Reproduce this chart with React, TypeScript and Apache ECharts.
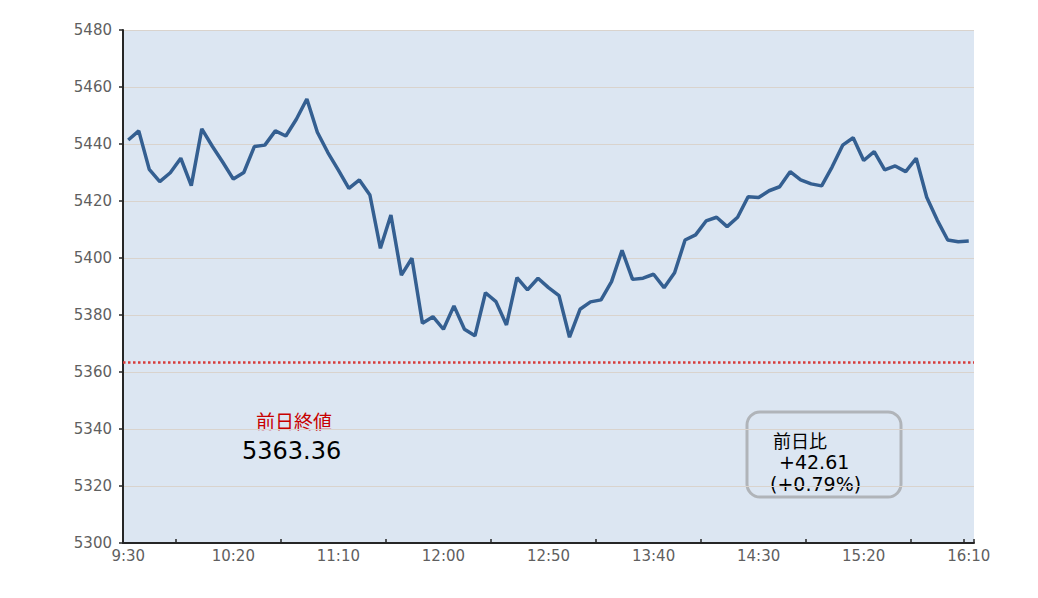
import React, { useEffect, useRef } from "react";
import * as echarts from "echarts";

const times: string[] = [
  "9:30", "9:35", "9:40", "9:45", "9:50", "9:55",
  "10:00", "10:05", "10:10", "10:15", "10:20", "10:25", "10:30", "10:35", "10:40", "10:45", "10:50", "10:55",
  "11:00", "11:05", "11:10", "11:15", "11:20", "11:25", "11:30", "11:35", "11:40", "11:45", "11:50", "11:55",
  "12:00", "12:05", "12:10", "12:15", "12:20", "12:25", "12:30", "12:35", "12:40", "12:45", "12:50", "12:55",
  "13:00", "13:05", "13:10", "13:15", "13:20", "13:25", "13:30", "13:35", "13:40", "13:45", "13:50", "13:55",
  "14:00", "14:05", "14:10", "14:15", "14:20", "14:25", "14:30", "14:35", "14:40", "14:45", "14:50", "14:55",
  "15:00", "15:05", "15:10", "15:15", "15:20", "15:25", "15:30", "15:35", "15:40", "15:45", "15:50", "15:55",
  "16:00", "16:05", "16:10",
];

const prices: number[] = [
  5441.4, 5444.6, 5431.1, 5426.8, 5429.9, 5435.0, 5425.4, 5445.3, 5439.2, 5433.6,
  5427.7, 5430.0, 5439.1, 5439.6, 5444.6, 5442.8, 5448.7, 5455.8, 5444.1, 5437.0,
  5430.8, 5424.4, 5427.4, 5422.1, 5403.4, 5415.1, 5394.0, 5399.9, 5377.1, 5379.4,
  5375.0, 5383.2, 5375.0, 5372.7, 5387.8, 5384.7, 5376.5, 5393.1, 5388.8, 5392.9,
  5389.6, 5386.8, 5372.2, 5382.0, 5384.6, 5385.3, 5391.7, 5402.7, 5392.5, 5392.9,
  5394.3, 5389.6, 5394.8, 5406.3, 5408.1, 5413.0, 5414.3, 5411.0, 5414.3, 5421.5,
  5421.2, 5423.6, 5425.0, 5430.3, 5427.4, 5426.0, 5425.3, 5432.0, 5439.6, 5442.2,
  5434.2, 5437.3, 5430.9, 5432.3, 5430.3, 5435.0, 5421.3, 5413.3, 5406.3, 5405.7,
  5405.97,
];

const prevClose = 5363.36;
const prevCloseLabel = "前日終値";
const prevCloseText = "5363.36";
const changeTitle = "前日比";
const changeValue = "+42.61";
const changePct = "(+0.79%)";

const yMin = 5300;
const yMax = 5480;
const yInterval = 20;

const NUM_FONT = "'DejaVu Sans', 'Noto Sans CJK JP', sans-serif";
const JP_FONT = "'Noto Sans CJK JP', 'DejaVu Sans', sans-serif";

export default function App() {
  const ref = useRef<HTMLDivElement>(null);

  useEffect(() => {
    document.body.style.margin = "0";
    if (!ref.current) return;
    const chart = echarts.init(ref.current, undefined, { renderer: "svg" });
    chart.setOption({
      animation: false,
      backgroundColor: "#ffffff",
      textStyle: { fontFamily: NUM_FONT },
      grid: {
        left: 123,
        right: 64,
        top: 30,
        bottom: 55,
        show: true,
        backgroundColor: "#dce6f2",
        borderWidth: 0,
      },
      xAxis: {
        type: "category",
        data: times,
        boundaryGap: true,
        axisLine: { show: true, lineStyle: { color: "#262626", width: 2 } },
        axisTick: {
          show: true,
          inside: true,
          length: 4,
          lineStyle: { color: "#262626", width: 1.5 },
          interval: (i: number) => i % 10 === 5 || i === 80,
        },
        axisLabel: {
          interval: (i: number) => i % 10 === 0,
          color: "#5f5f5f",
          fontSize: 15,
          fontFamily: NUM_FONT,
          margin: 5,
        },
        splitLine: { show: false },
      },
      yAxis: {
        type: "value",
        min: yMin,
        max: yMax,
        interval: yInterval,
        axisLine: { show: true, lineStyle: { color: "#262626", width: 2 } },
        axisTick: { show: true, length: 4, lineStyle: { color: "#262626", width: 1.5 } },
        axisLabel: {
          color: "#5f5f5f",
          fontSize: 15,
          fontFamily: NUM_FONT,
          margin: 11,
          formatter: (v: number) => String(v),
        },
        splitLine: { show: true, lineStyle: { color: "#d9d3cd", width: 1 } },
      },
      series: [
        {
          type: "line",
          data: prices,
          showSymbol: false,
          symbol: "none",
          lineStyle: { color: "#345f91", width: 3.5 },
          markLine: {
            silent: true,
            symbol: "none",
            label: { show: false },
            lineStyle: { color: "#d63b3b", type: "dotted", width: 2.5 },
            data: [{ yAxis: prevClose }],
          },
        },
      ],
      graphic: [
        {
          type: "text",
          x: 256,
          y: 420,
          style: { text: prevCloseLabel, fill: "#c80000", fontSize: 19, fontFamily: JP_FONT, verticalAlign: "middle" },
        },
        {
          type: "text",
          x: 242,
          y: 451,
          style: { text: prevCloseText, fill: "#000000", fontSize: 24, fontFamily: NUM_FONT, verticalAlign: "middle" },
        },
        {
          type: "rect",
          shape: { x: 747, y: 412, width: 154, height: 85, r: 13 },
          style: { fill: "none", stroke: "#b0b4b9", lineWidth: 3 },
        },
        {
          type: "text",
          x: 773,
          y: 440,
          style: { text: changeTitle, fill: "#000000", fontSize: 18, fontFamily: JP_FONT, verticalAlign: "middle" },
        },
        {
          type: "text",
          x: 779,
          y: 462,
          style: { text: changeValue, fill: "#000000", fontSize: 19, fontFamily: NUM_FONT, verticalAlign: "middle" },
        },
        {
          type: "text",
          x: 770,
          y: 484,
          style: { text: changePct, fill: "#000000", fontSize: 19, fontFamily: NUM_FONT, verticalAlign: "middle" },
        },
      ],
    });
    return () => chart.dispose();
  }, []);

  return <div ref={ref} style={{ width: 1038, height: 598 }} />;
}
